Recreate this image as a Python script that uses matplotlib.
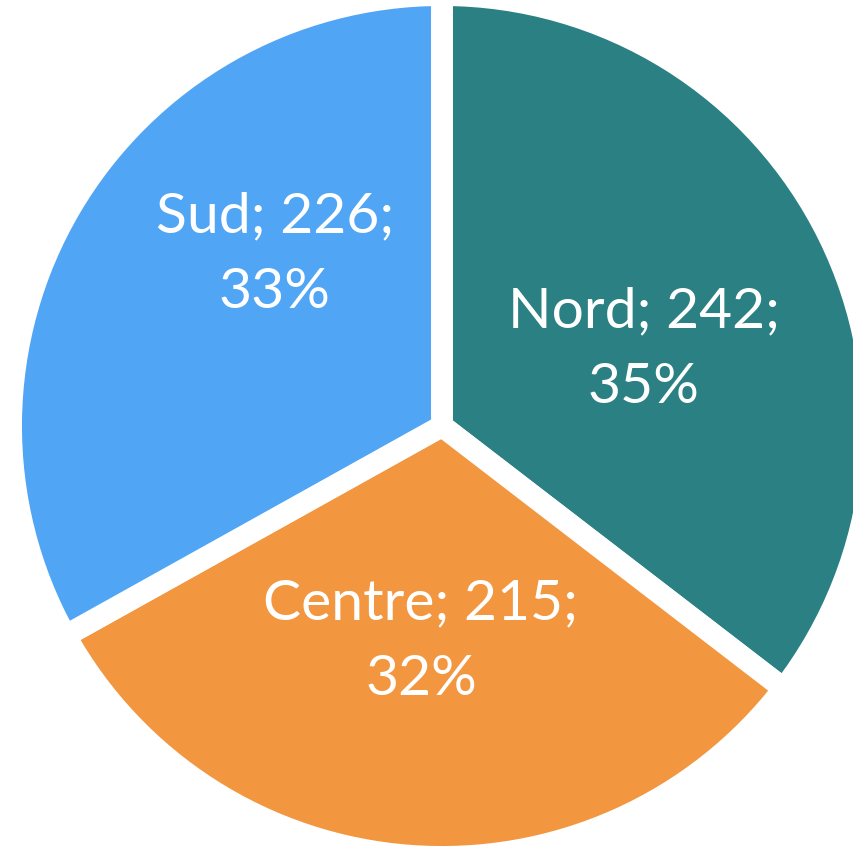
import matplotlib
matplotlib.use("Agg")
import matplotlib.pyplot as plt

categories = ["Nord", "Centre", "Sud"]
values = [242, 215, 226]
pct_labels = ["35%", "32%", "33%"]
colors = ["#2A8082", "#F2963F", "#50A5F5"]

W, H = 854, 847
fig = plt.figure(figsize=(W / 100, H / 100), dpi=100)
ax = fig.add_axes([0, 0, 1, 1])

cx, cy = 442, H - 426
R = 431
ax.pie(values, colors=colors, startangle=90, counterclock=False,
       center=(cx, cy), radius=R, frame=True,
       wedgeprops=dict(edgecolor="white", linewidth=15.8, joinstyle="miter"))
ax.set_xlim(0, W)
ax.set_ylim(0, H)
ax.set_aspect("equal")
ax.set_axis_off()

label_pos = [(644, 350), (421, 642), (275, 255)]
for cat, v, p, (x, y) in zip(categories, values, pct_labels, label_pos):
    ax.text(x, H - y, f"{cat}; {v};\n{p}", ha="center", va="center",
            color="white", fontsize=41, family="Lato", linespacing=1.6)

fig.savefig("out.png", dpi=100)
